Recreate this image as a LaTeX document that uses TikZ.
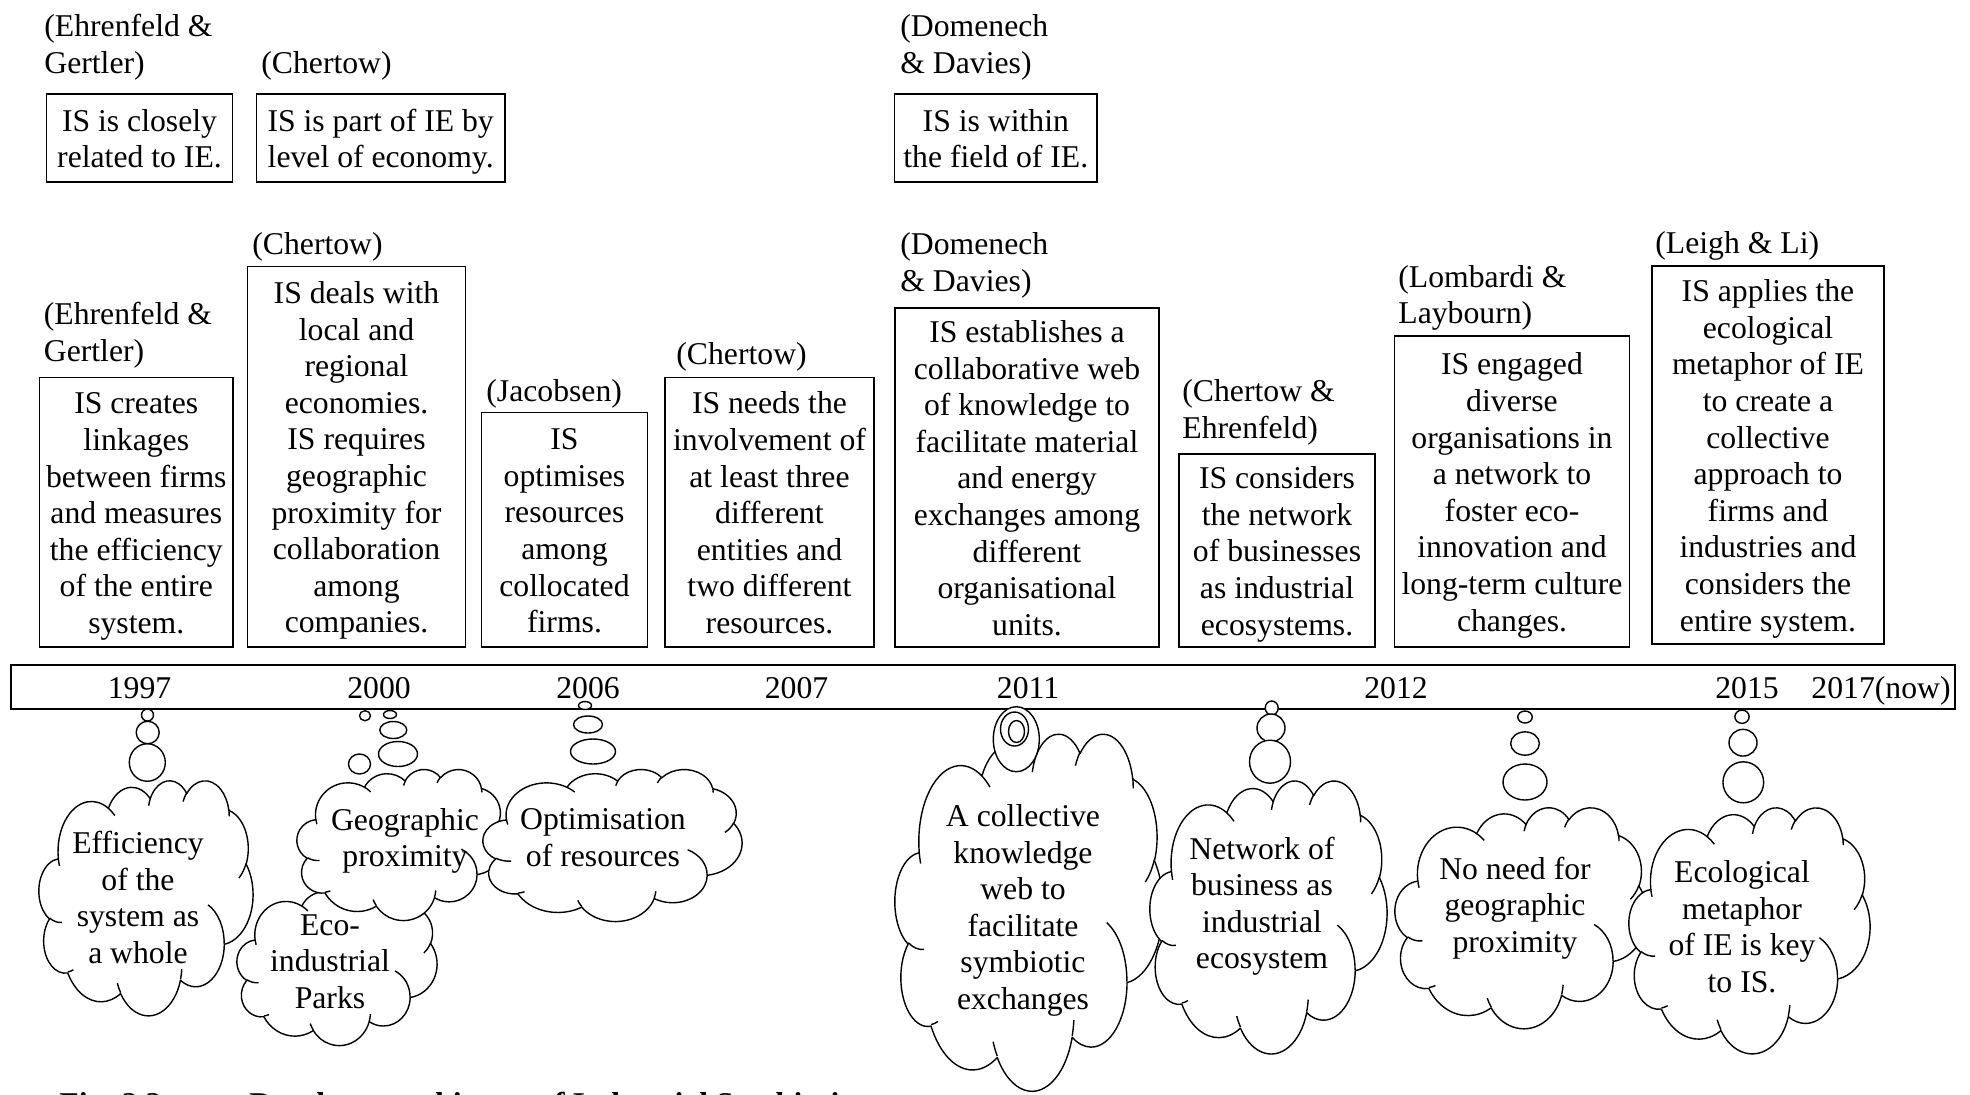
\documentclass[tikz,border=0pt]{standalone}
\usepackage{fontspec}
\setmainfont{Liberation Serif}
% Word-style cloud outline (OOXML preset, coordinates /1000)
\def\cldmain{6.753/9.190/-190.4875/123.7805, 5.333/7.267/-144.1024/89.9452, 4.365/5.945/-145.8079/99.7230, 4.857/6.595/-130.9861/117.2417, 5.333/7.273/-78.7089/109.0269, 6.775/9.220/-46.2673/130.2690, 5.785/7.867/0.6250/114.0333, 6.752/9.215/22.4516/115.1726, 7.720/10.543/66.2426/75.7110, 4.360/5.918/-274.9421/146.7356, 4.345/5.945/-246.8285/152.5189}
\def\cldhook{4.693/26.177/4.345/5.945/86.742/26.430, 6.928/34.899/4.360/5.918/73.611/11.448, 16.478/39.090/6.752/9.215/137.624/14.081, 28.827/34.751/6.752/9.215/6.453/15.998, 34.129/22.954/5.785/7.867/-70.292/70.917, 41.798/15.354/5.333/7.273/30.318/27.752, 38.324/5.426/4.857/6.595/-13.744/14.859, 29.078/3.952/4.857/6.595/-149.182/18.195, 22.141/4.720/4.365/5.945/-163.494/17.686, 14.000/5.192/6.753/9.190/-66.707/12.319, 4.127/15.789/6.753/9.190/157.654/11.858}
\newcommand\wcloud[4]{% left, top, width, height in px (top measured downwards)
  \pgfmathsetmacro\cldsx{#3/43.2}%
  \pgfmathsetmacro\cldsy{#4/43.2}%
  \draw[cloudline,fill=white] ({#1+3.9*\cldsx},{-(#2)-14.37*\cldsy})
    \foreach \ra/\rb/\st/\sw in \cldmain {
      arc[x radius=\ra*\cldsx, y radius=\rb*\cldsy,
          start angle={-atan2(\ra*sin(\st),\rb*cos(\st))},
          delta angle={-mod(atan2(\ra*sin(\st+\sw),\rb*cos(\st+\sw))-atan2(\ra*sin(\st),\rb*cos(\st))+720,360)}]
    } -- cycle;
  \draw[cloudline]
    \foreach \px/\py/\ra/\rb/\st/\sw in \cldhook {
      ({#1+\px*\cldsx},{-(#2)-\py*\cldsy})
      arc[x radius=\ra*\cldsx, y radius=\rb*\cldsy,
          start angle={-atan2(\ra*sin(\st),\rb*cos(\st))},
          delta angle={-mod(atan2(\ra*sin(\st+\sw),\rb*cos(\st+\sw))-atan2(\ra*sin(\st),\rb*cos(\st))+720,360)}]
    };
}
\newcommand\bubble[4]{\draw[cloudline,fill=white] (#1,-#2) ellipse[x radius=#3/2, y radius=#4/2];}
\newcommand\topst{\rule{0pt}{15.4pt}}
\tikzset{
  every node/.style={font=\fontsize{15.85pt}{18.3pt}\selectfont},
  struts/.style={execute at end node={\rule[-4pt]{0pt}{4pt}}},
  ibox/.style={draw, line width=0.8pt, inner sep=0pt, align=center, struts},
  cite/.style={inner sep=0pt, anchor=west, align=left, struts},
  ctext/.style={inner sep=0pt, align=center, struts},
  yr/.style={inner sep=0pt, anchor=base},
  cloudline/.style={line width=0.7pt, line join=round},
}
\begin{document}
\begin{tikzpicture}[x=0.5pt, y=0.5pt]
\useasboundingbox (0,0) rectangle (1970,-1094);

% ---- top row
\node[cite] (tc1) at (44,-43.3) {\topst(Ehrenfeld \&\\Gertler)};
\node[ibox, minimum width=93pt, minimum height=44pt] (tb1) at (139.5,-138.2) {\topst IS is closely\\related to IE.};
\node[cite] (tc2) at (261,-61.6) {\topst(Chertow)};
\node[ibox, minimum width=124.35pt, minimum height=44pt] (tb2) at (380.7,-138.2) {\topst IS is part of IE by\\level of economy.};
\node[cite] (tc3) at (900,-43.3) {\topst(Domenech\\\& Davies)};
\node[ibox, minimum width=101.2pt, minimum height=44pt] (tb3) at (995.8,-138.2) {\topst IS is within\\the field of IE.};

% ---- middle row
\node[cite] (cA) at (43.5,-331.5) {\topst(Ehrenfeld \&\\Gertler)};
\node[ibox, minimum width=96.75pt, minimum height=134.75pt] (bA) at (136.3,-512.3) {\topst IS creates\\linkages\\between firms\\and measures\\the efficiency\\of the entire\\system.};
\node[cite] (cB) at (252,-243) {\topst(Chertow)};
\node[ibox, minimum width=109pt, minimum height=190.25pt] (bB) at (356.5,-456.8) {\topst IS deals with\\local and\\regional\\economies.\\IS requires\\geographic\\proximity for\\collaboration\\among\\companies.};
\node[cite] (cC) at (486,-390) {\topst(Jacobsen)};
\node[ibox, minimum width=83pt, minimum height=117.25pt] (bC) at (564.5,-529.8) {\topst IS\\optimises\\resources\\among\\collocated\\firms.};
\node[cite] (cD) at (676,-353) {\topst(Chertow)};
\node[ibox, minimum width=104.5pt, minimum height=134.75pt] (bD) at (769.5,-512.3) {\topst IS needs the\\involvement of\\at least three\\different\\entities and\\two different\\resources.};
\node[cite] (cE) at (900,-261.5) {\topst(Domenech\\\& Davies)};
\node[ibox, minimum width=132pt, minimum height=169.5pt] (bE) at (1027,-477.5) {\topst IS establishes a\\collaborative web\\of knowledge to\\facilitate material\\and energy\\exchanges among\\different\\organisational\\units.};
\node[cite] (cF) at (1182,-408.5) {\topst(Chertow \&\\Ehrenfeld)};
\node[ibox, minimum width=98pt, minimum height=96.5pt] (bF) at (1277,-550.5) {\topst IS considers\\the network\\of businesses\\as industrial\\ecosystems.};
\node[cite] (cG) at (1398,-294) {\topst(Lombardi \&\\Laybourn)};
\node[ibox, minimum width=117.5pt, minimum height=155.5pt] (bG) at (1512,-491.5) {\topst IS engaged\\diverse\\organisations in\\a network to\\foster eco-\\innovation and\\long-term culture\\changes.};
\node[cite] (cH) at (1655,-241.7) {\topst(Leigh \& Li)};
\node[ibox, minimum width=116.25pt, minimum height=189pt] (bH) at (1768,-455) {\topst IS applies the\\ecological\\metaphor of IE\\to create a\\collective\\approach to\\firms and\\industries and\\considers the\\entire system.};

% ---- timeline
\node[draw, line width=1pt, inner sep=0pt, minimum width=972pt, minimum height=22pt] (bar) at (983,-687) {};
\node[yr] (y1997) at (139.5,-698.7) {1997};
\node[yr] (y2000) at (379,-698.7) {2000};
\node[yr] (y2006) at (588,-698.7) {2006};
\node[yr] (y2007) at (796.5,-698.7) {2007};
\node[yr] (y2011) at (1028,-698.7) {2011};
\node[yr] (y2012) at (1396,-698.7) {2012};
\node[yr] (y2015) at (1747,-698.7) {2015};
\node[yr] (y2017) at (1881,-698.7) {2017(now)};

% ---- clouds
\wcloud{39}{780}{214}{235}
\wcloud{237}{887}{200}{158}
\wcloud{297}{769}{208}{151}
\wcloud{483}{769}{259}{152}
\wcloud{895}{733}{268}{357}
\wcloud{1150}{780}{237}{273}
\wcloud{1395}{807}{252}{221}
\wcloud{1629}{807}{241}{246}

% ---- thought bubbles
\bubble{147.5}{715}{12}{12}
\bubble{147.7}{732.5}{23}{22.5}
\bubble{147.3}{762.5}{36}{37.5}
\bubble{365}{715.7}{11}{10}
\bubble{390}{714.5}{13}{8}
\bubble{393.3}{730}{27}{17}
\bubble{398}{754}{39}{25}
\bubble{359.5}{764}{22}{20}
\bubble{585}{705.5}{13}{8}
\bubble{588}{724.5}{29}{17}
\bubble{593}{751.5}{45}{25}
\bubble{1016.3}{739.2}{46}{65}
\bubble{1014.5}{729}{28}{34}
\bubble{1016.5}{731.5}{16}{22}
\bubble{1271.7}{708}{13}{14}
\bubble{1271}{728}{28}{28}
\bubble{1270}{761.7}{41}{43}
\bubble{1525}{717}{14.5}{12}
\bubble{1525}{743.5}{28.7}{23.3}
\bubble{1525}{782}{44}{36}
\bubble{1742}{716.7}{14.3}{13.3}
\bubble{1743}{742.7}{28}{26.7}
\bubble{1743.3}{782.3}{40.7}{41}

% ---- cloud texts
\node[ctext] (k1997) at (138,-897) {\topst Efficiency\\of the\\system as\\a whole};
\node[ctext] (keco) at (330,-960.5) {\topst Eco-\\industrial\\Parks};
\node[ctext] (kgeo) at (405,-837) {\topst Geographic\\proximity};
\node[ctext] (kopt) at (603,-836.5) {\topst Optimisation\\of resources};
\node[ctext] (k2011) at (1023,-906.5) {\topst A collective\\knowledge\\web to\\facilitate\\symbiotic\\exchanges};
\node[ctext] (knet) at (1262,-902.5) {\topst Network of\\business as\\industrial\\ecosystem};
\node[ctext] (kneed) at (1515,-904.5) {\topst No need for\\geographic\\proximity};
\node[ctext] (keco2) at (1742,-926) {\topst Ecological\\metaphor\\of IE is key\\to IS.};

% ---- caption (cut off at the lower edge, as in the source)
\node[inner sep=0pt, anchor=base west, font=\fontsize{15.85pt}{18.3pt}\selectfont\bfseries] (cap1) at (59,-1114) {Fig. 2.2};
\node[inner sep=0pt, anchor=base west, font=\fontsize{15.85pt}{18.3pt}\selectfont\bfseries] (cap2) at (249,-1114) {Development history of Industrial Symbiosis};
\end{tikzpicture}
\end{document}
